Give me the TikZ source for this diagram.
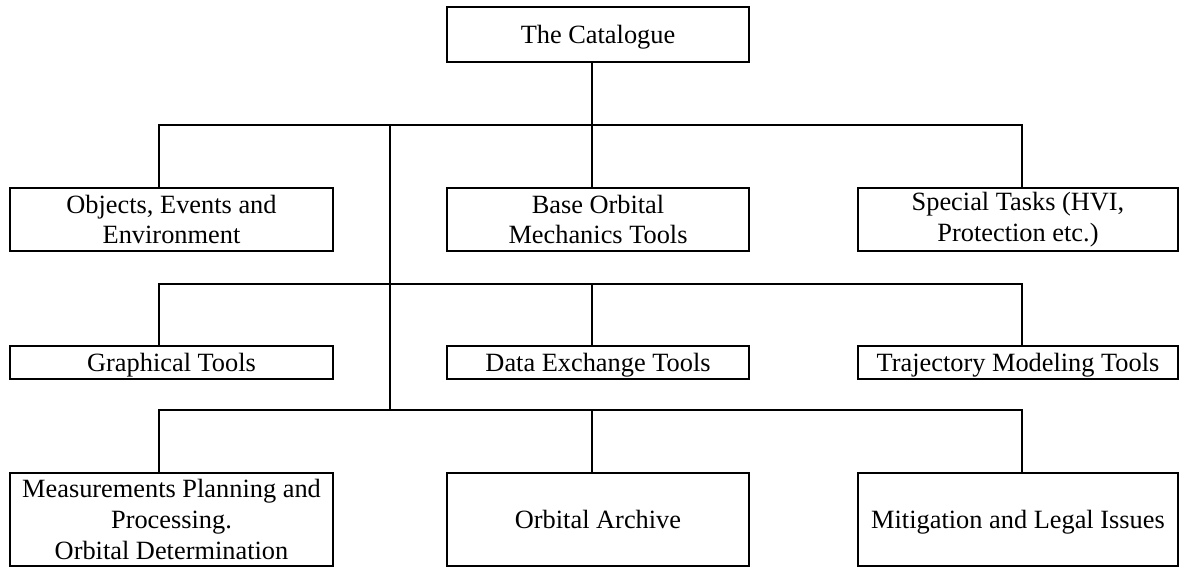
\documentclass[tikz,border=0pt]{standalone}
\usepackage{fontspec}
\setmainfont{Liberation Serif}
\usepackage{tikz}
\usetikzlibrary{positioning,calc}
\tikzset{
    box/.style={rectangle, draw, line width=0.8pt, inner sep=0pt, outer sep=0pt, align=center, font=\fontsize{15}{17.6}\selectfont},
    oneline/.style={text height=13.4pt, text depth=3.3pt},
    link/.style={line width=0.8pt}
}

\begin{document}
\begin{tikzpicture}
\useasboundingbox (0,0) rectangle (23.6,-11.34);

% ── Root ──
\node[box, oneline, minimum width=6.04cm, minimum height=1.1cm] (catalogue) at (11.96,-0.69) {The Catalogue};

% ── First row ──
\node[box, minimum width=6.04cm, minimum height=1.26cm, below=2.52cm of catalogue] (base) {Base Orbital\\Mechanics Tools};
\node[box, minimum width=6.46cm, minimum height=1.26cm, left=2.28cm of base] (objects) {Objects, Events and\\Environment};
\node[box, minimum width=6.4cm, minimum height=1.26cm, right=2.18cm of base] (special) {Special Tasks (HVI,\\Protection etc.)};

% ── Second row ──
\node[box, oneline, minimum width=6.46cm, minimum height=0.66cm, below=1.9cm of objects] (graphical) {Graphical Tools};
\node[box, oneline, minimum width=6.04cm, minimum height=0.66cm, below=1.9cm of base] (exchange) {Data Exchange Tools};
\node[box, oneline, minimum width=6.4cm, minimum height=0.66cm, below=1.9cm of special] (trajectory) {Trajectory Modeling Tools};

% ── Third row ──
\node[box, minimum width=6.46cm, minimum height=1.86cm, below=1.88cm of graphical] (measurements) {Measurements Planning and\\Processing.\\Orbital Determination};
\node[box, oneline, minimum width=6.04cm, minimum height=1.86cm, below=1.88cm of exchange] (archive) {Orbital Archive};
\node[box, oneline, minimum width=6.4cm, minimum height=1.86cm, below=1.88cm of trajectory] (mitigation) {Mitigation and Legal Issues};

% ── Connections ──
\coordinate (spinetop) at (7.8,-2.5);
\coordinate (spinebottom) at (7.8,-8.2);
\draw[link] ([xshift=-1.2mm]catalogue.south) -- ([xshift=-1.2mm]base.north);
\draw[link] ([xshift=-2.5mm]objects.north) -- ++(0,1.26) -| ([xshift=0.8mm]special.north);
\draw[link] ([xshift=-1.2mm]exchange.north) -- ++(0,1.24);
\draw[link] ([xshift=-2.5mm]graphical.north) -- ++(0,1.24) -| ([xshift=0.8mm]trajectory.north);
\draw[link] ([xshift=-1.2mm]archive.north) -- ++(0,1.26);
\draw[link] ([xshift=-2.5mm]measurements.north) -- ++(0,1.26) -| ([xshift=0.8mm]mitigation.north);
\draw[link] (spinetop) -- (spinebottom);

\end{tikzpicture}
\end{document}
